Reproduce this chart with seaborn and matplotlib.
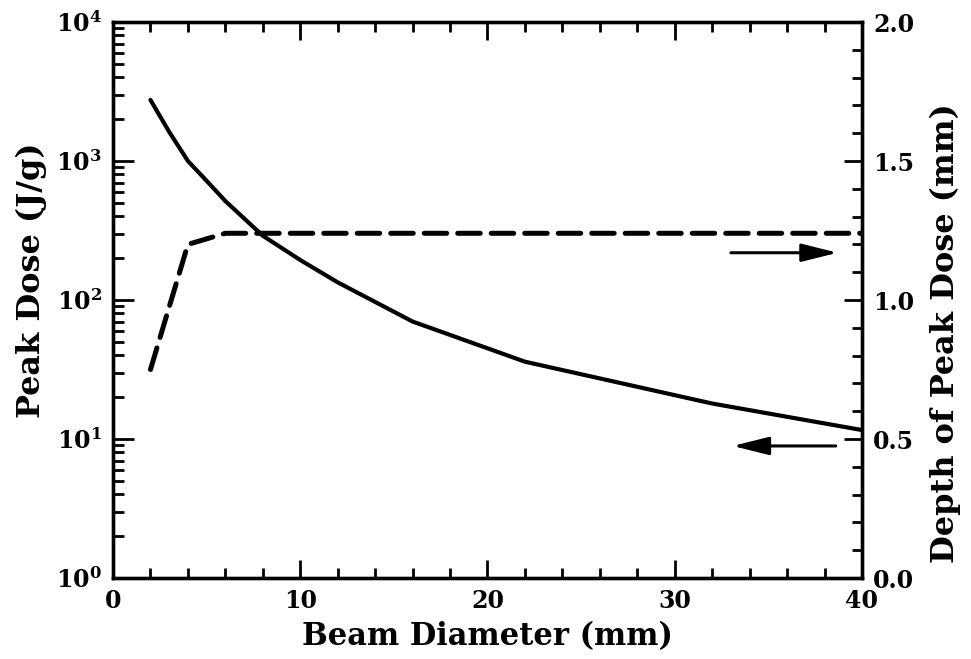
import numpy as np
import pandas as pd
import matplotlib
matplotlib.use("Agg")
import matplotlib.pyplot as plt
from matplotlib.ticker import MultipleLocator, LogLocator, FixedLocator, NullFormatter
import seaborn as sns

# Data
beam_diameter_dose = [2, 3, 4, 5, 6, 8, 10, 12, 16, 22, 32, 40]
peak_dose = [2750, 1620, 1000, 720, 515, 290, 194, 134, 70, 36, 18, 11.6]

beam_diameter_depth = [2, 4, 6, 40]
depth_peak = [0.75, 1.20, 1.24, 1.24]

x_ticks = [0, 10, 20, 30, 40]
left_ticks = [1, 10, 100, 1000, 10000]
left_tick_labels = [r"$\mathbf{10^{0}}$", r"$\mathbf{10^{1}}$", r"$\mathbf{10^{2}}$",
                    r"$\mathbf{10^{3}}$", r"$\mathbf{10^{4}}$"]
right_ticks = [0.0, 0.5, 1.0, 1.5, 2.0]
right_tick_labels = ["0.0", "0.5", "1.0", "1.5", "2.0"]

sns.set_style("ticks")
plt.rcParams["font.family"] = ["DejaVu Serif"]
plt.rcParams["font.weight"] = "bold"
plt.rcParams["mathtext.fontset"] = "dejavuserif"
plt.rcParams["text.color"] = "black"
plt.rcParams["axes.labelcolor"] = "black"
plt.rcParams["xtick.color"] = "black"
plt.rcParams["ytick.color"] = "black"
plt.rcParams["axes.edgecolor"] = "black"

fig = plt.figure(figsize=(9.71, 6.59), dpi=100)
ax = fig.add_axes([0.1164, 0.1229, 0.7713, 0.8437])
ax2 = ax.twinx()

df_dose = pd.DataFrame({"x": beam_diameter_dose, "y": peak_dose})
df_depth = pd.DataFrame({"x": beam_diameter_depth, "y": depth_peak})

sns.lineplot(data=df_dose, x="x", y="y", ax=ax, color="black", linewidth=3.0,
             solid_capstyle="round", solid_joinstyle="round")
sns.lineplot(data=df_depth, x="x", y="y", ax=ax2, color="black", linewidth=3.6,
             linestyle=(0, (4.5, 2.2)), dash_capstyle="round")

ax.set_yscale("log")
ax.set_xlim(0, 40)
ax.set_ylim(1, 1e4)
ax2.set_ylim(0, 2.0)

# ticks
ax.xaxis.set_major_locator(FixedLocator(x_ticks))
ax.xaxis.set_minor_locator(MultipleLocator(2))
ax.set_xticklabels([str(t) for t in x_ticks])
ax.yaxis.set_major_locator(FixedLocator(left_ticks))
ax.set_yticklabels(left_tick_labels)
ax.yaxis.set_minor_locator(LogLocator(base=10, subs=np.arange(2, 10)))
ax.yaxis.set_minor_formatter(NullFormatter())
ax2.yaxis.set_major_locator(FixedLocator(right_ticks))
ax2.set_yticklabels(right_tick_labels)
ax2.yaxis.set_minor_locator(MultipleLocator(0.1))

ax.tick_params(axis="x", which="both", direction="in", top=True, bottom=True,
               width=2, labelsize=17, pad=8, colors="black")
ax.tick_params(axis="x", which="major", length=13)
ax.tick_params(axis="x", which="minor", length=7)
ax.tick_params(axis="y", which="both", direction="in", left=True, right=False,
               width=2, labelsize=17, pad=8, colors="black")
ax.tick_params(axis="y", which="major", length=15)
ax.tick_params(axis="y", which="minor", length=8)
ax2.tick_params(axis="y", which="both", direction="in", right=True, left=False,
                width=2, labelsize=17, pad=8, colors="black")
ax2.tick_params(axis="y", which="major", length=13)
ax2.tick_params(axis="y", which="minor", length=7)

for a in (ax, ax2):
    for s in a.spines.values():
        s.set_linewidth(2.4)
        s.set_color("black")
        s.set_visible(True)

ax.set_xlabel("Beam Diameter (mm)", fontsize=22, fontweight="bold", labelpad=6, color="black")
ax.set_ylabel("Peak Dose (J/g)", fontsize=23, fontweight="bold", color="black")
ax2.set_ylabel("Depth of Peak Dose (mm)", fontsize=23, fontweight="bold", color="black")
ax.yaxis.set_label_coords(-0.088, 0.535)
ax2.yaxis.set_label_coords(1.091, 0.44)

# arrows indicating which axis belongs to which curve
arrow_kw = dict(arrowstyle="-|>,head_length=2.2,head_width=0.55", color="black",
                lw=2.2, shrinkA=0, shrinkB=0)
ax2.annotate("", xy=(38.7, 1.17), xytext=(33.0, 1.17), arrowprops=arrow_kw)
ax2.annotate("", xy=(33.1, 0.475), xytext=(38.6, 0.475), arrowprops=arrow_kw)

fig.savefig("out.png", dpi=100)
